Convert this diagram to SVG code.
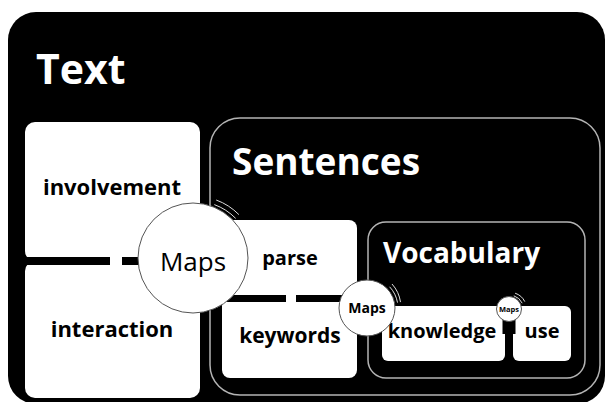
<svg xmlns="http://www.w3.org/2000/svg" width="607" height="402" viewBox="0 0 607 402">
<style>
.box{fill:#fff}
.frame{fill:none;stroke:#b4b4b4;stroke-width:1.5}
.t{font-family:"Open Sans","Noto Sans","Liberation Sans",sans-serif;font-weight:bold}
.wt{fill:#fff}
.bk{fill:#000}
.conn{stroke:#000;fill:none}
.map{fill:#fff;stroke:#555;stroke-width:1}
.rip{fill:none;stroke:#ddd;stroke-width:1}
</style>
<rect width="607" height="402" fill="#fff"/>
<g id="text-container">
<rect x="8" y="12" width="597" height="392" rx="28" fill="#000"/>
<text class="t wt" x="36" y="84" font-size="41">Text</text>
</g>
<g id="sentences-container">
<rect class="frame" x="210" y="118" width="390" height="277" rx="30"/>
<text class="t wt" x="232" y="175" font-size="37">Sentences</text>
</g>
<g id="vocabulary-container">
<rect class="frame" x="368" y="222" width="217" height="156" rx="18"/>
<text class="t wt" x="383" y="263" font-size="28">Vocabulary</text>
</g>
<g id="involvement"><rect class="box" x="25" y="122" width="175" height="139" rx="10"/><text class="t bk" x="112" y="195" font-size="22" text-anchor="middle">involvement</text></g>
<g id="interaction"><rect class="box" x="25" y="261" width="175" height="137" rx="10"/><text class="t bk" x="112" y="337" font-size="22" text-anchor="middle">interaction</text></g>
<g id="parse"><rect class="box" x="222" y="220" width="135" height="79" rx="8"/><text class="t bk" x="290" y="265" font-size="20" text-anchor="middle">parse</text></g>
<g id="keywords"><rect class="box" x="222" y="298" width="135" height="80" rx="8"/><text class="t bk" x="290" y="343" font-size="21" text-anchor="middle">keywords</text></g>
<g id="knowledge"><rect class="box" x="382" y="306" width="123" height="55" rx="6"/><text class="t bk" x="442" y="338" font-size="20" text-anchor="middle">knowledge</text></g>
<g id="use"><rect class="box" x="513" y="306" width="58" height="55" rx="6"/><text class="t bk" x="542" y="338" font-size="20" text-anchor="middle">use</text></g>
<g id="connectors">
<line class="conn" x1="25" y1="261" x2="145" y2="261" stroke-width="8" stroke-dasharray="85 12 60"/>
<line class="conn" x1="222" y1="298.5" x2="345" y2="298.5" stroke-width="7" stroke-dasharray="64 10 60"/>
<line class="conn" x1="509" y1="318" x2="509" y2="334" stroke-width="13"/>
</g>
<g id="maps-1">
<circle class="map" cx="193" cy="258" r="55"/>
<path class="rip" d="M 214.3 204.6 A 58 58 0 0 1 235.7 218.4"/>
<path class="rip" d="M 216.2 200.0 A 62 62 0 0 1 238.9 214.6"/>
<text x="193" y="271" font-family="'Open Sans','Noto Sans','Liberation Sans',sans-serif" font-size="26" text-anchor="middle" fill="#000">Maps</text>
</g>
<g id="maps-2">
<circle class="map" cx="367" cy="308" r="28"/>
<path class="rip" d="M 389.6 286.8 A 31 31 0 0 1 397.5 302.6"/>
<path class="rip" d="M 392.0 284.0 A 34 34 0 0 1 400.5 302.1"/>
<text class="t bk" x="367" y="313" font-size="14" text-anchor="middle">Maps</text>
</g>
<g id="maps-3">
<circle class="map" cx="509" cy="309" r="12.5"/>
<path class="rip" d="M 513.8 295.8 A 14 14 0 0 1 522.2 303.2"/>
<path class="rip" d="M 515.1 293.2 A 16.5 16.5 0 0 1 524.8 301.6"/>
<text class="t bk" x="509" y="312" font-size="7.5" text-anchor="middle">Maps</text>
</g>
</svg>
